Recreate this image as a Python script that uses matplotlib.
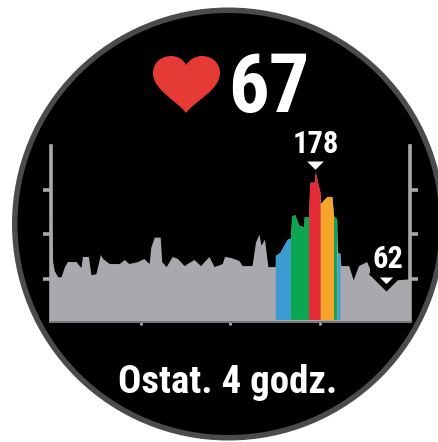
import numpy as np
import matplotlib
matplotlib.use("Agg")
import matplotlib.pyplot as plt
from matplotlib.patches import Circle, PathPatch
from matplotlib.path import Path

# heart rate trace
minutes = [0, 1.1, 2.2, 4.5, 6.7, 9, 11, 16.7, 20, 21, 25, 26.7, 30, 33, 34.5, 39, 45.6, 49, 52, 58,
           62, 65.6, 66.7, 69, 73, 74, 77, 81, 84.5, 89, 91, 95.6, 100, 105.6, 109, 114.5, 116, 120,
           125.6, 127.8, 134.4, 136.7, 139, 140.4, 142.7, 145, 149.9,
           150, 153, 156, 158, 160, 161, 163, 165.5, 168.9, 169.3, 172.2,
           173, 176, 176.7, 178.2, 180, 180.1, 184.4, 187.8, 188.9, 191, 191.6, 193.2,
           193.8, 199, 202, 205.6, 211, 215.5, 224, 231, 240]
bpm = [150, 90, 81, 75, 75, 85, 90, 90, 84, 95, 95, 77, 78, 97, 93, 88, 88, 92, 88, 90,
       93, 88, 104, 114, 114, 90, 85, 95, 93, 86, 88, 92, 86, 95, 85, 88, 95, 94,
       91, 86, 86, 109, 117, 106, 112, 85, 85,
       96, 99, 107, 112, 113, 135, 136, 126, 124, 134, 134,
       168, 168, 178, 168, 157, 147, 154, 154, 135, 132, 99, 98,
       86, 86, 72, 86, 90, 75, 62, 72, 73]

zone_edges = [150, 160, 172.2, 180, 188.9, 191.3, 193.5]
zone_colors = ["#3d9bd3", "#0ba650", "#e32b35", "#f6a52a", "#0ba650", "#3d9bd3"]
y_ticks = [73, 117, 160]
x_ticks = [60, 120, 180]
current = "67"
footer = "Ostat. 4 godz."
max_bpm, max_min = 178, 176.7
min_bpm, min_min = 62, 224

GRAY = "#a7a9ac"
W, H = 439, 442
FONT = ["Roboto Condensed", "Sofia Sans Condensed", "DejaVu Sans"]
TRI = Path([(-1, 0), (1, 0), (0, -1), (-1, 0)], closed=True)

fig = plt.figure(figsize=(W / 100, H / 100), dpi=100, facecolor="white")

# watch face, drawn in pixel coords
bg = fig.add_axes([0, 0, 1, 1])
bg.set_xlim(0, W)
bg.set_ylim(H, 0)
bg.axis("off")
bg.add_patch(Circle((228.5, 224), 216.5, fc="#4b4b4d", ec="none"))
bg.add_patch(Circle((228.5, 224), 211, fc="black", ec="none"))

heart = Path([(186, 113), (176, 100), (153, 90), (153, 73), (153, 62), (162, 56), (171, 56),
              (178, 56), (184, 60), (186, 65), (189, 60), (195, 56), (202, 56), (211, 56),
              (220, 62), (220, 73), (220, 90), (196, 100), (186, 113)],
             [Path.MOVETO] + [Path.CURVE4] * 18)
bg.add_patch(PathPatch(heart, fc="#e63a35", ec="none"))
bg.text(269, 112, current, color="white", fontsize=58, fontweight="bold", family=FONT,
        ha="center", va="baseline")
bg.text(228, 393, footer, color="white", fontsize=28, fontweight="bold", family=FONT,
        ha="center", va="baseline")

# chart area
left, right, top, bottom = 51, 410, 146, 321.5
ax = fig.add_axes([left / W, 1 - bottom / H, (right - left) / W, (bottom - top) / H])
ax.patch.set_alpha(0)
ax.set_xlim(0, 240)
ax.set_ylim(31, 203.6)

t = np.array(minutes)
v = np.array(bpm)
ax.fill_between(t, 31, v, color=GRAY, lw=0)
for i, c in enumerate(zone_colors):
    a, b = zone_edges[i], zone_edges[i + 1]
    m = (t >= a) & (t <= b)
    ax.fill_between(t[m], 33, v[m], color=c, lw=0, zorder=3)

ax.spines["top"].set_visible(False)
for s in ["left", "right"]:
    ax.spines[s].set_color(GRAY)
    ax.spines[s].set_linewidth(2.6)
ax.spines["bottom"].set_color("#77787b")
ax.spines["bottom"].set_linewidth(1.4)

ax.set_yticks(y_ticks)
ax.set_xticks(x_ticks)
ax.tick_params(axis="y", left=True, right=True, labelleft=False, length=6, width=2.6, color=GRAY)
ax.tick_params(axis="x", bottom=True, labelbottom=False, length=2, width=2, color=GRAY)

# max and min markers
ax.plot([max_min], [max_bpm + 11], marker=TRI, ms=12, color="white", mew=0, zorder=6, clip_on=False)
ax.annotate(str(max_bpm), (max_min, max_bpm), xytext=(0, 13.7), textcoords="offset points",
            color="white", fontsize=22, fontweight="bold", family=FONT, ha="center", va="baseline",
            zorder=6, annotation_clip=False)
ax.plot([min_min], [min_bpm + 17], marker=TRI, ms=26, color="black", mew=0, zorder=5)
ax.plot([min_min], [min_bpm + 13], marker=TRI, ms=9.5, color="white", mew=0, zorder=6)
ax.annotate(str(min_bpm), (min_min, min_bpm), xytext=(1, 15.8), textcoords="offset points",
            color="white", fontsize=22, fontweight="bold", family=FONT, ha="center", va="baseline",
            zorder=6, bbox=dict(fc="black", ec="none", pad=1.5))

fig.savefig("out.png", dpi=100, facecolor="white")
